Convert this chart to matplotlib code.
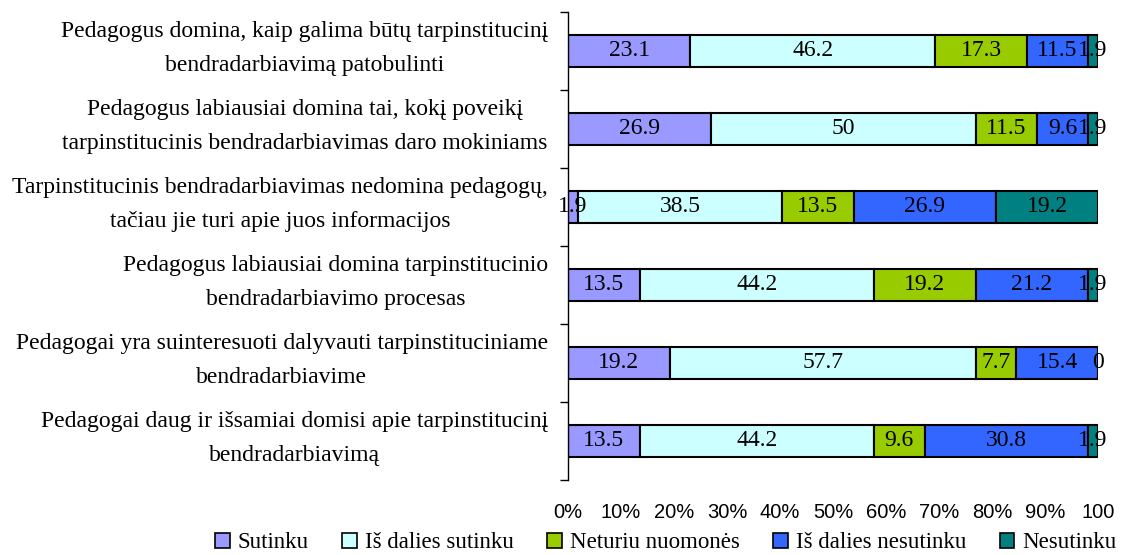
import numpy as np
import matplotlib
matplotlib.use("Agg")
import matplotlib.pyplot as plt
from matplotlib.patches import Rectangle

plt.rcParams['font.family'] = ['Liberation Serif', 'DejaVu Serif']

statements = [
    "Pedagogus domina, kaip galima būtų tarpinstitucinį\nbendradarbiavimą patobulinti",
    "Pedagogus labiausiai domina tai, kokį poveikį\ntarpinstitucinis bendradarbiavimas daro mokiniams",
    "Tarpinstitucinis bendradarbiavimas nedomina pedagogų,\ntačiau jie turi apie juos informacijos",
    "Pedagogus labiausiai domina tarpinstitucinio\nbendradarbiavimo procesas",
    "Pedagogai yra suinteresuoti dalyvauti tarpinstituciniame\nbendradarbiavime",
    "Pedagogai daug ir išsamiai domisi apie tarpinstitucinį\nbendradarbiavimą",
]
answers = ["Sutinku", "Iš dalies sutinku", "Neturiu nuomonės",
           "Iš dalies nesutinku", "Nesutinku"]
sutinku = [23.1, 26.9, 1.9, 13.5, 19.2, 13.5]
is_dalies_sutinku = [46.2, 50, 38.5, 44.2, 57.7, 44.2]
neturiu_nuomones = [17.3, 11.5, 13.5, 19.2, 7.7, 9.6]
is_dalies_nesutinku = [11.5, 9.6, 26.9, 21.2, 15.4, 30.8]
nesutinku = [1.9, 1.9, 19.2, 1.9, 0, 1.9]
xtick_labels = ["0%", "10%", "20%", "30%", "40%", "50%", "60%",
                "70%", "80%", "90%", "100"]

colors = ['#9999FF', '#CCFFFF', '#99CC00', '#3366FF', '#008080']

series = np.array([sutinku, is_dalies_sutinku, neturiu_nuomones,
                   is_dalies_nesutinku, nesutinku], dtype=float)
shares = series / series.sum(axis=0) * 100

fig = plt.figure(figsize=(11.21, 5.55), dpi=100)
ax = fig.add_axes([568 / 1121, 1 - 480 / 555, 530 / 1121, 468 / 555])

ypos = np.arange(len(statements))
left = np.zeros(len(statements))
for i, name in enumerate(answers):
    bars = ax.barh(ypos, shares[i], left=left, height=0.42, color=colors[i],
                   edgecolor='black', linewidth=1.5, label=name)
    ax.bar_label(bars, labels=[f"{v:g}" for v in series[i]],
                 label_type='center', fontsize=17)
    left += shares[i]

ax.set_xlim(0, 100)
ax.set_ylim(len(statements) - 0.5, -0.5)

ax.set_xticks(np.arange(0, 101, 10))
ax.set_xticklabels(xtick_labels, family=['Liberation Sans'], fontsize=14.5)
ax.tick_params(axis='x', length=0, pad=16.5)

# category boundaries carry the ticks, centres carry the labels
ax.set_yticks(np.arange(-0.5, len(statements), 1.0))
ax.set_yticklabels([])
ax.set_yticks(ypos - 0.03, minor=True)
ax.set_yticklabels(statements, minor=True, fontsize=17, multialignment='center',
                   linespacing=1.8, va='center')
ax.tick_params(axis='y', which='major', length=6, width=1, direction='out')
ax.tick_params(axis='y', which='minor', length=0, pad=14.5)

for s in ['top', 'right', 'bottom']:
    ax.spines[s].set_visible(False)
ax.spines['left'].set_linewidth(1)

handles = [Rectangle((0, 0), 1, 1, facecolor=c, edgecolor='black', linewidth=1.2)
           for c in colors]
fig.legend(handles, answers, loc='center right', bbox_to_anchor=(1119 / 1121, 1 - 543 / 555),
           ncol=5, frameon=False, fontsize=16.5, handlelength=0.65, handleheight=0.65,
           handletextpad=0.35, columnspacing=1.45, borderpad=0.1, borderaxespad=0)

fig.savefig("out.png", dpi=100)
